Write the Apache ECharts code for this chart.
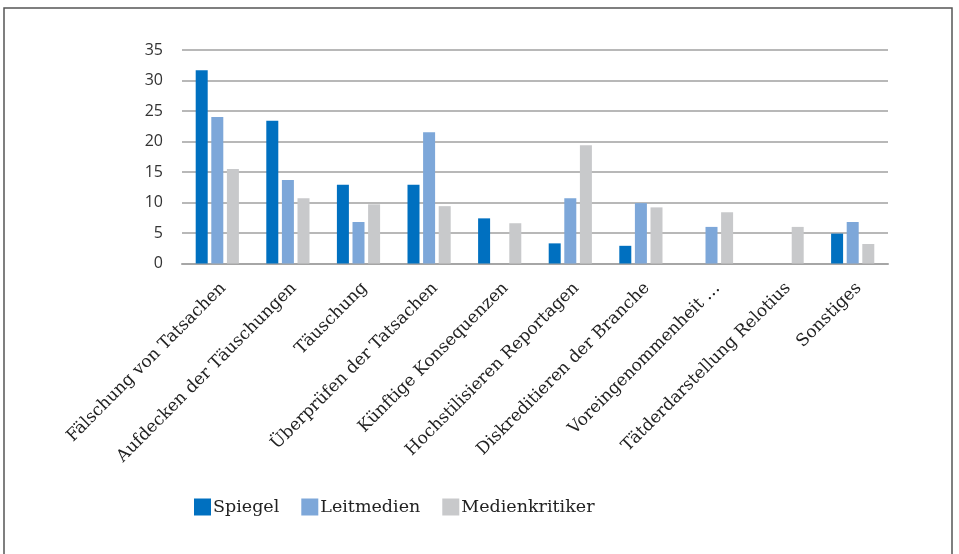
<!DOCTYPE html>
<html><head><meta charset="utf-8">
<script src="https://cdn.jsdelivr.net/npm/echarts@6/dist/echarts.min.js"></script>
<style>html,body{margin:0;padding:0;background:#fff}#c{width:959px;height:554px}</style>
</head><body><div id="c"></div>
<script>
const categories = ["Fälschung von Tatsachen","Aufdecken der Täuschungen","Täuschung","Überprüfen der Tatsachen","Künftige Konsequenzen","Hochstilisieren Reportagen","Diskreditieren der Branche","Voreingenommenheit …","Tätderdarstellung Relotius","Sonstiges"];
const spiegel = [31.7, 23.4, 12.9, 12.9, 7.4, 3.3, 2.9, 0, 0, 4.9];
const leitmedien = [24.0, 13.7, 6.8, 21.5, 0, 10.7, 9.9, 6.0, 0, 6.8];
const medienkritiker = [15.5, 10.7, 9.7, 9.4, 6.6, 19.4, 9.2, 8.4, 6.0, 3.2];
const yTicks = [0, 5, 10, 15, 20, 25, 30, 35];

const chart = echarts.init(document.getElementById('c'), null, {renderer: 'canvas'});
const serif = '"DejaVu Serif", "Liberation Serif", serif';
chart.setOption({
  backgroundColor: '#fff',
  animation: false,
  graphic: [{type: 'rect', shape: {x: 4, y: 8, width: 948, height: 560}, style: {fill: 'none', stroke: '#555', lineWidth: 1.5}, silent: true}],
  legend: {
    left: 189, top: 493, itemWidth: 17, itemHeight: 17, itemGap: 22,
    icon: 'rect',
    textStyle: {fontFamily: serif, fontSize: 17.5, color: '#222', padding: [0,0,0,-3]},
    data: ['Spiegel','Leitmedien','Medienkritiker']
  },
  grid: {left: 182, right: 71, top: 50, bottom: 290.5, containLabel: false},
  xAxis: {
    type: 'category', data: categories,
    axisTick: {show: false},
    axisLine: {lineStyle: {color: '#a6a6a6', width: 2}},
    axisLabel: {rotate: 45, interval: 0, margin: 16, verticalAlign: 'top', fontFamily: serif, fontSize: 17, color: '#222'}
  },
  yAxis: {
    type: 'value', min: yTicks[0], max: yTicks[yTicks.length-1], interval: 5,
    axisLine: {show: false}, axisTick: {show: false},
    splitLine: {lineStyle: {color: '#a0a0a0', width: 1.5}},
    axisLabel: {margin: 19, fontFamily: '"Open Sans", "Noto Sans", sans-serif', fontSize: 16, color: '#333'}
  },
  series: [
    {name: 'Spiegel', type: 'bar', data: spiegel, itemStyle: {color: '#0070C0'}, barWidth: 12, barGap: '30%', barCategoryGap: '39%'},
    {name: 'Leitmedien', type: 'bar', data: leitmedien, itemStyle: {color: '#7DA7D9'}, barWidth: 12, barGap: '30%'},
    {name: 'Medienkritiker', type: 'bar', data: medienkritiker, itemStyle: {color: '#C8C9CB'}, barWidth: 12, barGap: '30%'}
  ]
});
</script></body></html>
